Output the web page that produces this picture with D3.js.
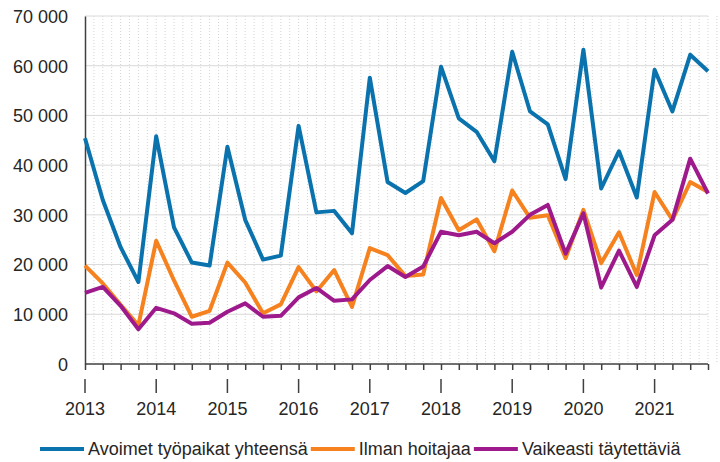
<!DOCTYPE html>
<html>
<head>
<meta charset="utf-8">
<script src="https://cdn.jsdelivr.net/npm/d3@7"></script>
<style>
  body { margin: 0; background: #fff; }
  text { font-family: "Liberation Sans", Arial, sans-serif; fill: #262626; }
</style>
</head>
<body>
<div id="chart"></div>
<script>
// quarterly values 2013Q1 .. 2021Q4
var years = ["2013", "2014", "2015", "2016", "2017", "2018", "2019", "2020", "2021"];
var yTicks = [0, 10000, 20000, 30000, 40000, 50000, 60000, 70000];
var seriesNames = ["Avoimet työpaikat yhteensä", "Ilman hoitajaa", "Vaikeasti täytettäviä"];
var colors = ["#0a72ad", "#f5821f", "#9e1a8c"];

var avoimet = [45400, 33000, 23500, 16500, 45800, 27500, 20400, 19800,
               43700, 29000, 21000, 21800, 47900, 30500, 30800, 26300,
               57600, 36600, 34400, 36800, 59800, 49400, 46700, 40800,
               62800, 50800, 48200, 37200, 63200, 35300, 42800, 33500,
               59200, 50800, 62200, 58900];
var ilman = [19800, 16200, 11900, 7800, 24800, 16800, 9500, 10700,
             20400, 16400, 10200, 12000, 19500, 14600, 18900, 11500,
             23300, 21900, 17700, 18000, 33400, 26900, 29100, 22700,
             34900, 29400, 29900, 21300, 31000, 20300, 26500, 17900,
             34600, 29000, 36600, 34600];
var vaikeasti = [14300, 15500, 11700, 7000, 11300, 10200, 8100, 8300,
                 10500, 12200, 9500, 9700, 13400, 15300, 12700, 13000,
                 16900, 19700, 17500, 19600, 26600, 25900, 26600, 24300,
                 26600, 30000, 32000, 22200, 30300, 15400, 22800, 15500,
                 25900, 29000, 41300, 34300];
var allSeries = [avoimet, ilman, vaikeasti];

var width = 720, height = 462;
var x0 = 85, x1 = 708, yTop = 16, yBottom = 364;

var svg = d3.select("#chart").append("svg")
    .attr("width", width)
    .attr("height", height);

var x = d3.scaleLinear().domain([0, avoimet.length - 1]).range([x0, x1]);
var y = d3.scaleLinear().domain([0, 70000]).range([yBottom, yTop]);

// dotted vertical grid every half quarter
var halfSteps = d3.range(0.5, avoimet.length - 0.5 + 0.01, 0.5);
svg.append("g").selectAll("line")
    .data(halfSteps)
    .enter().append("line")
    .attr("x1", d => x(d)).attr("x2", d => x(d))
    .attr("y1", yTop).attr("y2", yBottom)
    .style("stroke", "#d4d4d4")
    .style("stroke-width", 1)
    .style("stroke-dasharray", "1,2");

// horizontal grid
svg.append("g").selectAll("line")
    .data(yTicks.slice(1))
    .enter().append("line")
    .attr("x1", x0).attr("x2", x1)
    .attr("y1", d => y(d)).attr("y2", d => y(d))
    .style("stroke", "#d9d9d9")
    .style("stroke-width", 1);

// y axis
var fmt = d3.format(",");
var yAxis = svg.append("g")
    .attr("transform", "translate(" + x0 + ",0)")
    .call(d3.axisLeft(y).tickValues(yTicks).tickSize(0).tickPadding(17)
        .tickFormat(d => fmt(d).replace(/,/g, " ")));
yAxis.select(".domain").style("stroke", "#404040").style("stroke-width", 1.5);
yAxis.selectAll("text").style("font-size", "18px").attr("dy", "0.35em");

// x axis with quarter ticks
var quarters = d3.range(0, avoimet.length);
var xAxis = svg.append("g")
    .attr("transform", "translate(0," + yBottom + ")")
    .call(d3.axisBottom(x).tickValues(quarters).tickSize(6).tickFormat(""));
xAxis.select(".domain").attr("d", "M" + x0 + ",0H" + x1).style("stroke", "#404040").style("stroke-width", 1.5);
xAxis.selectAll(".tick line").style("stroke", "#404040").style("stroke-width", 1.5);

// year ticks and labels
var yearG = svg.append("g").selectAll("g")
    .data(years)
    .enter().append("g")
    .attr("transform", (d, i) => "translate(" + x(i * 4) + ",0)");
yearG.append("line")
    .attr("y1", 379).attr("y2", 393)
    .style("stroke", "#404040").style("stroke-width", 1.5);
yearG.append("text")
    .attr("y", 415)
    .attr("text-anchor", "middle")
    .style("font-size", "18px")
    .text(d => d);

// lines
var line = d3.line()
    .x((d, i) => x(i))
    .y(d => y(d));
svg.append("g").selectAll("path")
    .data(allSeries)
    .enter().append("path")
    .attr("d", line)
    .style("fill", "none")
    .style("stroke", (d, i) => colors[i])
    .style("stroke-width", 4)
    .style("stroke-linejoin", "round");

// legend
var legend = svg.append("g").attr("transform", "translate(0,449)");
var lx = 40;
seriesNames.forEach(function (name, i) {
    legend.append("line")
        .attr("x1", lx).attr("x2", lx + 44)
        .attr("y1", 0).attr("y2", 0)
        .style("stroke", colors[i])
        .style("stroke-width", 4);
    var t = legend.append("text")
        .attr("x", lx + 48)
        .attr("y", 6)
        .style("font-size", "18px")
        .text(name);
    lx = lx + 48 + t.node().getComputedTextLength() + 3;
});
</script>
</body>
</html>
